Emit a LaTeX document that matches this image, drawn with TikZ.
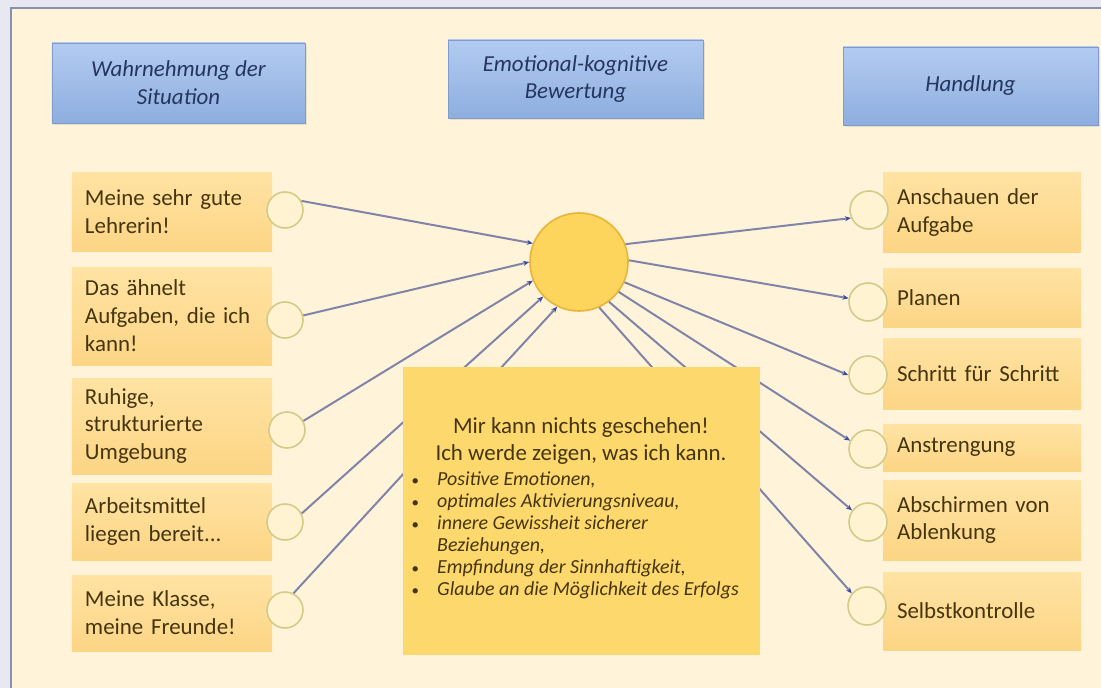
\documentclass[tikz,border=0pt]{standalone}
\usepackage{fontspec}
\setmainfont{Carlito}
\usetikzlibrary{arrows.meta,shadows}
\definecolor{bgout}{HTML}{E8E8F2}
\definecolor{cream}{HTML}{FFF4D9}
\definecolor{framec}{HTML}{8890AE}
\definecolor{hdrtop}{HTML}{B3CBF1}
\definecolor{hdrbot}{HTML}{8EAEDF}
\definecolor{hdrline}{HTML}{7F9CCD}
\definecolor{hdrtext}{HTML}{24365F}
\definecolor{boxtop}{HTML}{FFE3A3}
\definecolor{boxbot}{HTML}{FCD585}
\definecolor{boxtext}{HTML}{45350F}
\definecolor{cboxc}{HTML}{FDD86D}
\definecolor{sunfill}{HTML}{FDD45C}
\definecolor{sunline}{HTML}{E7B43C}
\definecolor{ringfill}{HTML}{FFF3D2}
\definecolor{ringline}{HTML}{D5CA88}
\definecolor{linec}{HTML}{8084A8}
\definecolor{tipc}{HTML}{3A4A9E}
\newcommand{\myblt}{\makebox[27bp][l]{\hspace{1.5bp}\upshape\fontsize{15}{22}\selectfont\textbullet}}
\begin{document}
\begin{tikzpicture}[x=1bp,y=-1bp,
 hdr/.style={rectangle, draw=hdrline, line width=0.6bp, top color=hdrtop, bottom color=hdrbot,
   text=hdrtext, font=\fontsize{23}{28}\selectfont\itshape, align=center, inner sep=0pt,
   drop shadow={opacity=0.18, shadow xshift=1.5bp, shadow yshift=-2bp}},
 lbox/.style={rectangle, top color=boxtop, bottom color=boxbot, text=boxtext,
   font=\fontsize{23}{28}\selectfont, align=left, inner xsep=13bp, inner ysep=0pt,
   minimum width=200bp, text width=174bp},
 rbox/.style={lbox, inner xsep=14bp, minimum width=198bp, text width=170bp},
 ring/.style={circle, draw=ringline, line width=1.6bp, fill=ringfill, minimum size=36bp, inner sep=0pt},
 rring/.style={ring, minimum size=38bp},
 sun/.style={circle, draw=sunline, line width=1.6bp, fill=sunfill, minimum size=98bp, inner sep=0pt},
 conn/.style={draw=linec, line width=2bp, -{Stealth[length=6bp,width=5bp,color=tipc,fill=tipc]}},
 cboxs/.style={rectangle, fill=cboxc, inner sep=0pt},
 ctitle/.style={text=boxtext, font=\fontsize{23}{28}\selectfont, align=center, inner sep=0pt},
 bul/.style={anchor=base west, inner sep=0pt, text=boxtext, font=\fontsize{20}{22}\selectfont\itshape}
]
\useasboundingbox (0,0) rectangle (1101,688);
\fill[bgout] (0,0) rectangle (1101,688);
\fill[cream] (11,8) rectangle (1101,688);
\draw[framec, line width=2.4bp] (11,700) -- (11,8) -- (1110,8);

% headers
\node[hdr, minimum width=253bp, minimum height=80bp] (h1) at (178.5,83) {Wahrnehmung der\\Situation};
\node[hdr, minimum width=255bp, minimum height=78bp] (h2) at (575.5,79) {Emotional-kognitive\\Bewertung};
\node[hdr, minimum width=255bp, minimum height=78bp] (h3) at (970.5,86) {Handlung};

% left boxes
\node[lbox, minimum height=78bp] (l1) at (172,212) {Meine sehr gute\\Lehrerin!};
\node[lbox, minimum height=98bp] (l2) at (172,316) {Das ähnelt\\Aufgaben, die ich\\kann!};
\node[lbox, minimum height=96bp] (l3) at (172,426) {Ruhige,\\strukturierte\\Umgebung};
\node[lbox, minimum height=77bp] (l4) at (172,521.5) {Arbeitsmittel\\liegen bereit...};
\node[lbox, minimum height=76bp] (l5) at (172,613) {Meine Klasse,\\meine Freunde!};

% right boxes
\node[rbox, minimum height=79bp] (r1) at (982,212.5) {Anschauen der\\Aufgabe};
\node[rbox, minimum height=59bp] (r2) at (982,297.5) {Planen};
\node[rbox, minimum height=71bp] (r3) at (982,373.5) {Schritt für Schritt};
\node[rbox, minimum height=47bp] (r4) at (982,447.5) {Anstrengung};
\node[rbox, minimum height=80bp] (r5) at (982,520) {Abschirmen von\\Ablenkung};
\node[rbox, minimum height=78bp] (r6) at (982,611) {Selbstkontrolle};

% rings
\node[ring] (lc1) at (285,210) {};
\node[ring] (lc2) at (285,320) {};
\node[ring] (lc3) at (287,430) {};
\node[ring] (lc4) at (285,522) {};
\node[ring] (lc5) at (285,610) {};
\node[rring] (rc1) at (869,210) {};
\node[rring] (rc2) at (868,302) {};
\node[rring] (rc3) at (868,375) {};
\node[rring] (rc4) at (868,449) {};
\node[rring] (rc5) at (868,522) {};
\node[rring] (rc6) at (867,606) {};

% central circle
\node[sun] (cc) at (579,262) {};

% connectors
\draw[conn] (lc1.29) -- (cc.158);
\draw[conn] (lc2.14) -- (cc.180);
\draw[conn] (lc3.29) -- (cc.202);
\draw[conn] (lc4.27) -- (cc.224);
\draw[conn] (lc5.63) -- (cc.244);
\draw[conn] (cc.21) -- (rc1.204);
\draw[conn] (cc.2) -- (rc2.169);
\draw[conn] (cc.-24) -- (rc3.180);
\draw[conn] (cc.-37) -- (rc4.155);
\draw[conn] (cc.-53) -- (rc5.144);
\draw[conn] (cc.-66) -- (rc6.140);

% central box
\node[cboxs, minimum width=357bp, minimum height=288bp] (cbox) at (581.5,511) {};
\node[ctitle] (t1) at (581,441) {Mir kann nichts geschehen!\\Ich werde zeigen, was ich kann.};
\node[bul] (b1) at (410,485) {\myblt Positive Emotionen,};
\node[bul] (b2) at (410,507) {\myblt optimales Aktivierungsniveau,};
\node[bul] (b3) at (410,529) {\myblt innere Gewissheit sicherer};
\node[bul] (b3b) at (437,551) {Beziehungen,};
\node[bul] (b4) at (410,573) {\myblt Empfindung der Sinnhaftigkeit,};
\node[bul] (b5) at (410,595) {\myblt Glaube an die Möglichkeit des Erfolgs};
\end{tikzpicture}
\end{document}
